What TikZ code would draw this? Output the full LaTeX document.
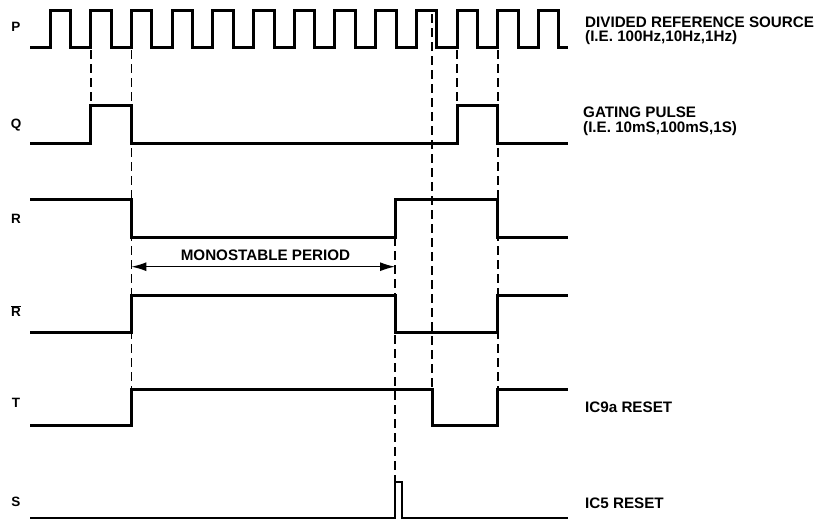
\documentclass[tikz,border=0pt]{standalone}
\usepackage{fontspec}
\setmainfont{Liberation Sans}
\usetikzlibrary{arrows.meta}

\begin{document}
\begin{tikzpicture}[x=1pt, y=-1pt,
    wave/.style={line width=3pt, line join=miter},
    guide/.style={line width=1.8pt, dash pattern=on 9pt off 5pt},
    sig/.style={inner sep=0pt, font=\bfseries\fontsize{13.5}{15}\selectfont},
    lbl/.style={inner sep=0pt, font=\bfseries\fontsize{15.2}{14.5}\selectfont},
    note/.style={lbl, anchor=west, align=left}]
  \fill[white] (0,0) rectangle (830,520);
  \useasboundingbox (0,0) rectangle (830,520);
  % signal names
  \node[sig] (labP) at (16,27) {P};
  \node[sig] (labQ) at (16,125) {Q};
  \node[sig] (labR) at (16,219) {R};
  \node[sig] (labRb) at (16,311) {$\overline{\hbox{R}}$};
  \node[sig] (labT) at (16,403) {T};
  \node[sig] (labS) at (16,502) {S};
  % waveforms
  \draw[wave] (30,47) \foreach \k in {0,...,12} {
      -- ({50+40.7*\k},47) -- ({50+40.7*\k},10)
      -- ({70.5+40.7*\k},10) -- ({70.5+40.7*\k},47) } -- (568,47);
  \draw[wave] (30,143) -- (90.7,143) -- (90.7,105) -- (131.4,105) -- (131.4,143)
      -- (457,143) -- (457,105) -- (497.7,105) -- (497.7,143) -- (568,143);
  \draw[wave] (30,199) -- (131.4,199) -- (131.4,237) -- (395,237) -- (395,199)
      -- (497.7,199) -- (497.7,237) -- (568,237);
  \draw[wave] (30,332) -- (131.4,332) -- (131.4,295) -- (395,295) -- (395,332)
      -- (497.7,332) -- (497.7,295) -- (568,295);
  \draw[wave] (30,425) -- (131.4,425) -- (131.4,389) -- (432,389) -- (432,425)
      -- (497.7,425) -- (497.7,389) -- (568,389);
  \draw[wave, line width=1.9pt] (30,518) -- (395,518) -- (395,482) -- (402,482)
      -- (402,518) -- (568,518);
  % timing guides
  \draw[guide] (90.7,50) -- (90.7,105);
  \draw[guide] (131.4,50) -- (131.4,389);
  \draw[guide] (395,237) -- (395,482);
  \draw[guide] (432,14) -- (432,389);
  \draw[guide] (457,50) -- (457,105);
  \draw[guide] (497.7,50) -- (497.7,389);
  % monostable period
  \draw[{Latex[length=15pt,width=9pt]}-{Latex[length=15pt,width=9pt]}, line width=1.3pt]
      (131.4,266.7) -- (395,266.7);
  \node[lbl] (mono) at (265.5,255.5) {MONOSTABLE PERIOD};
  % notes
  \node[note] (src) at (585,31) {DIVIDED REFERENCE SOURCE\\(I.E. 100Hz,10Hz,1Hz)};
  \node[note] (gate) at (583,121.5) {GATING PULSE\\(I.E. 10mS,100mS,1S)};
  \node[note] (ic9) at (585,407.5) {IC9a RESET};
  \node[note] (ic5) at (585,503.5) {IC5 RESET};
\end{tikzpicture}
\end{document}
